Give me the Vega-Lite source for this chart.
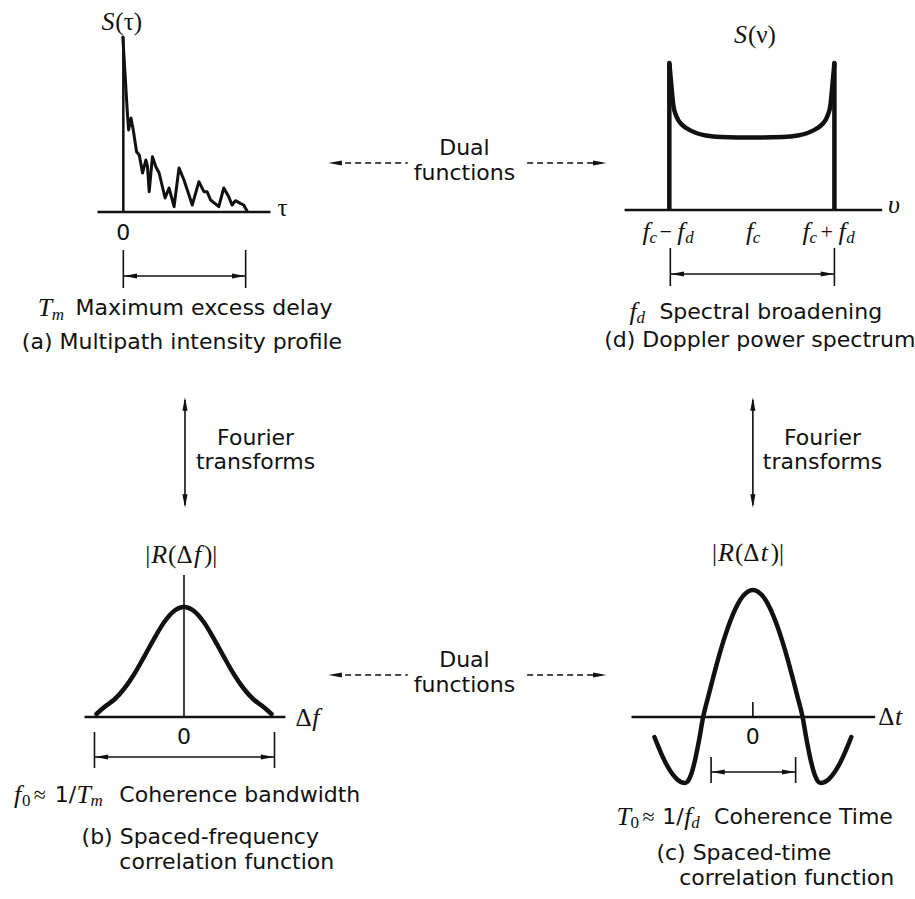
{
  "$schema": "https://vega.github.io/schema/vega-lite/v6.json",
  "width": 915,
  "height": 899,
  "autosize": {"type": "fit", "contains": "padding"},
  "padding": 0,
  "background": "white",
  "config": {"view": {"stroke": null}},
  "datasets": {
    "segs": [
      {"k": "axis", "x": 124, "y": 37, "x2": 124, "y2": 212},
      {"k": "axis", "x": 98, "y": 212, "x2": 272, "y2": 212},
      {"k": "bracket", "x": 124, "y": 250, "x2": 124, "y2": 288},
      {"k": "bracket", "x": 247, "y": 250, "x2": 247, "y2": 288},
      {"k": "bracket", "x": 124, "y": 276, "x2": 247, "y2": 276},
      {"k": "axis", "x": 628, "y": 210, "x2": 887, "y2": 210},
      {"k": "thick", "x": 673, "y": 63, "x2": 673, "y2": 210},
      {"k": "thick", "x": 839, "y": 63, "x2": 839, "y2": 210},
      {"k": "bracket", "x": 674, "y": 248, "x2": 674, "y2": 286},
      {"k": "bracket", "x": 839, "y": 248, "x2": 839, "y2": 286},
      {"k": "bracket", "x": 674, "y": 274, "x2": 839, "y2": 274},
      {"k": "dashed", "x": 337, "y": 163, "x2": 410, "y2": 163},
      {"k": "dashed", "x": 530, "y": 163, "x2": 603, "y2": 163},
      {"k": "dashed", "x": 337, "y": 675, "x2": 410, "y2": 675},
      {"k": "dashed", "x": 530, "y": 675, "x2": 603, "y2": 675},
      {"k": "bracket", "x": 186, "y": 400, "x2": 186, "y2": 505},
      {"k": "bracket", "x": 757, "y": 400, "x2": 757, "y2": 505},
      {"k": "stem", "x": 185, "y": 575, "x2": 185, "y2": 717},
      {"k": "axis", "x": 85, "y": 717, "x2": 287, "y2": 717},
      {"k": "bracket", "x": 95, "y": 732, "x2": 95, "y2": 768},
      {"k": "bracket", "x": 276, "y": 732, "x2": 276, "y2": 768},
      {"k": "bracket", "x": 95, "y": 757, "x2": 276, "y2": 757},
      {"k": "axis", "x": 635, "y": 717, "x2": 880, "y2": 717},
      {"k": "stem", "x": 757, "y": 702, "x2": 757, "y2": 717},
      {"k": "bracket", "x": 715, "y": 757, "x2": 715, "y2": 783},
      {"k": "bracket", "x": 800, "y": 757, "x2": 800, "y2": 783},
      {"k": "bracket", "x": 715, "y": 772, "x2": 800, "y2": 772}
    ],
    "heads": [
      {"dir": "left", "x": 131, "y": 276},
      {"dir": "right", "x": 240, "y": 276},
      {"dir": "left", "x": 681, "y": 274},
      {"dir": "right", "x": 832, "y": 274},
      {"dir": "left", "x": 337, "y": 163},
      {"dir": "right", "x": 603, "y": 163},
      {"dir": "left", "x": 337, "y": 675},
      {"dir": "right", "x": 603, "y": 675},
      {"dir": "up", "x": 186, "y": 404},
      {"dir": "down", "x": 186, "y": 501},
      {"dir": "up", "x": 757, "y": 404},
      {"dir": "down", "x": 757, "y": 501},
      {"dir": "left", "x": 102, "y": 757},
      {"dir": "right", "x": 269, "y": 757},
      {"dir": "left", "x": 722, "y": 772},
      {"dir": "right", "x": 793, "y": 772}
    ],
    "curves": [
      {"c": "a", "x": 123.5, "y": 37},
      {"c": "a", "x": 128.3, "y": 116.7},
      {"c": "a", "x": 129.3, "y": 130},
      {"c": "a", "x": 131.7, "y": 118},
      {"c": "a", "x": 134, "y": 130},
      {"c": "a", "x": 137.3, "y": 151.7},
      {"c": "a", "x": 140, "y": 155},
      {"c": "a", "x": 143.3, "y": 173},
      {"c": "a", "x": 146.7, "y": 160},
      {"c": "a", "x": 148.3, "y": 166.7},
      {"c": "a", "x": 150, "y": 191.7},
      {"c": "a", "x": 153.3, "y": 156.7},
      {"c": "a", "x": 156.7, "y": 166.7},
      {"c": "a", "x": 160, "y": 173},
      {"c": "a", "x": 166, "y": 198},
      {"c": "a", "x": 170, "y": 188},
      {"c": "a", "x": 175, "y": 206.7},
      {"c": "a", "x": 180, "y": 168},
      {"c": "a", "x": 185, "y": 180},
      {"c": "a", "x": 193.3, "y": 205},
      {"c": "a", "x": 200, "y": 181.7},
      {"c": "a", "x": 205, "y": 191.7},
      {"c": "a", "x": 208.3, "y": 191.7},
      {"c": "a", "x": 211.7, "y": 200},
      {"c": "a", "x": 220, "y": 206.7},
      {"c": "a", "x": 225, "y": 188},
      {"c": "a", "x": 230, "y": 196.7},
      {"c": "a", "x": 233.3, "y": 205},
      {"c": "a", "x": 236.7, "y": 200.7},
      {"c": "a", "x": 241.7, "y": 203.3},
      {"c": "a", "x": 245, "y": 205},
      {"c": "a", "x": 248.3, "y": 210.7},
      {"c": "d", "x": 673, "y": 63},
      {"c": "d", "x": 675, "y": 85},
      {"c": "d", "x": 677, "y": 105},
      {"c": "d", "x": 680, "y": 116},
      {"c": "d", "x": 685, "y": 124},
      {"c": "d", "x": 690, "y": 128},
      {"c": "d", "x": 700, "y": 133},
      {"c": "d", "x": 710, "y": 135.5},
      {"c": "d", "x": 725, "y": 137},
      {"c": "d", "x": 756, "y": 137.5},
      {"c": "d", "x": 787, "y": 137},
      {"c": "d", "x": 802, "y": 135.5},
      {"c": "d", "x": 812, "y": 133},
      {"c": "d", "x": 822, "y": 128},
      {"c": "d", "x": 827, "y": 124},
      {"c": "d", "x": 832, "y": 116},
      {"c": "d", "x": 835, "y": 105},
      {"c": "d", "x": 837, "y": 85},
      {"c": "d", "x": 839, "y": 63},
      {"c": "b", "x": 97, "y": 714},
      {"c": "b", "x": 105, "y": 707},
      {"c": "b", "x": 115, "y": 699.5},
      {"c": "b", "x": 125, "y": 688.5},
      {"c": "b", "x": 135, "y": 674},
      {"c": "b", "x": 145, "y": 656.6},
      {"c": "b", "x": 155, "y": 638.6},
      {"c": "b", "x": 165, "y": 622.3},
      {"c": "b", "x": 175, "y": 611},
      {"c": "b", "x": 185, "y": 607},
      {"c": "b", "x": 195, "y": 611},
      {"c": "b", "x": 205, "y": 622.3},
      {"c": "b", "x": 215, "y": 638.6},
      {"c": "b", "x": 225, "y": 656.6},
      {"c": "b", "x": 235, "y": 674},
      {"c": "b", "x": 245, "y": 688.5},
      {"c": "b", "x": 255, "y": 699.5},
      {"c": "b", "x": 265, "y": 707},
      {"c": "b", "x": 273, "y": 714},
      {"c": "c", "x": 658, "y": 737},
      {"c": "c", "x": 661, "y": 744.4},
      {"c": "c", "x": 665, "y": 753.8},
      {"c": "c", "x": 669, "y": 762.2},
      {"c": "c", "x": 673, "y": 769.4},
      {"c": "c", "x": 677, "y": 775.2},
      {"c": "c", "x": 681, "y": 779.5},
      {"c": "c", "x": 685, "y": 782.1},
      {"c": "c", "x": 689, "y": 783},
      {"c": "c", "x": 692, "y": 780.7},
      {"c": "c", "x": 695, "y": 774.2},
      {"c": "c", "x": 699, "y": 759.4},
      {"c": "c", "x": 703, "y": 739.6},
      {"c": "c", "x": 707, "y": 717},
      {"c": "c", "x": 712, "y": 697.1},
      {"c": "c", "x": 717, "y": 677.8},
      {"c": "c", "x": 722, "y": 659.3},
      {"c": "c", "x": 727, "y": 642.4},
      {"c": "c", "x": 732, "y": 627.2},
      {"c": "c", "x": 737, "y": 614.3},
      {"c": "c", "x": 742, "y": 603.8},
      {"c": "c", "x": 747, "y": 596.2},
      {"c": "c", "x": 752, "y": 591.6},
      {"c": "c", "x": 757, "y": 590},
      {"c": "c", "x": 762, "y": 591.6},
      {"c": "c", "x": 767, "y": 596.2},
      {"c": "c", "x": 772, "y": 603.8},
      {"c": "c", "x": 777, "y": 614.3},
      {"c": "c", "x": 782, "y": 627.2},
      {"c": "c", "x": 787, "y": 642.4},
      {"c": "c", "x": 792, "y": 659.3},
      {"c": "c", "x": 797, "y": 677.8},
      {"c": "c", "x": 802, "y": 697.1},
      {"c": "c", "x": 807, "y": 717},
      {"c": "c", "x": 811, "y": 739.6},
      {"c": "c", "x": 815, "y": 759.4},
      {"c": "c", "x": 819, "y": 774.2},
      {"c": "c", "x": 822, "y": 780.7},
      {"c": "c", "x": 825, "y": 783},
      {"c": "c", "x": 829, "y": 782.1},
      {"c": "c", "x": 833, "y": 779.5},
      {"c": "c", "x": 837, "y": 775.2},
      {"c": "c", "x": 841, "y": 769.4},
      {"c": "c", "x": 845, "y": 762.2},
      {"c": "c", "x": 849, "y": 753.8},
      {"c": "c", "x": 853, "y": 744.4},
      {"c": "c", "x": 856, "y": 737}
    ],
    "labels": [
      {"k": "mathL", "t": "S", "x": 102, "y": 22},
      {"k": "upL", "t": "(τ)", "x": 116, "y": 22},
      {"k": "upL", "t": "τ", "x": 279, "y": 208},
      {"k": "sansC", "t": "0", "x": 124, "y": 233},
      {"k": "mathL", "t": "T", "x": 38, "y": 308},
      {"k": "subL", "t": "m", "x": 52, "y": 315},
      {"k": "sansL", "t": "Maximum excess delay", "x": 76, "y": 308},
      {"k": "sansC", "t": "(a) Multipath intensity profile", "x": 183, "y": 342},
      {"k": "sansC", "t": "Dual", "x": 467, "y": 148},
      {"k": "sansC", "t": "functions", "x": 467, "y": 173},
      {"k": "mathL", "t": "S", "x": 738, "y": 35},
      {"k": "upL", "t": "(ν)", "x": 752, "y": 35},
      {"k": "mathL", "t": "υ", "x": 893, "y": 205},
      {"k": "mathL", "t": "f", "x": 646, "y": 232},
      {"k": "subL", "t": "c", "x": 653, "y": 238},
      {"k": "symL", "t": "−", "x": 663, "y": 232},
      {"k": "mathL", "t": "f", "x": 681, "y": 232},
      {"k": "subL", "t": "d", "x": 689, "y": 238},
      {"k": "mathL", "t": "f", "x": 750, "y": 232},
      {"k": "subL", "t": "c", "x": 757, "y": 238},
      {"k": "mathL", "t": "f", "x": 807, "y": 232},
      {"k": "subL", "t": "c", "x": 814, "y": 238},
      {"k": "symL", "t": "+", "x": 825, "y": 232},
      {"k": "mathL", "t": "f", "x": 843, "y": 232},
      {"k": "subL", "t": "d", "x": 851, "y": 238},
      {"k": "mathL", "t": "f", "x": 633, "y": 312},
      {"k": "subL", "t": "d", "x": 640, "y": 318},
      {"k": "sansL", "t": "Spectral broadening", "x": 663, "y": 312},
      {"k": "sansC", "t": "(d) Doppler power spectrum", "x": 764, "y": 340},
      {"k": "sansC", "t": "Fourier", "x": 257, "y": 438},
      {"k": "sansC", "t": "transforms", "x": 257, "y": 462},
      {"k": "sansC", "t": "Fourier", "x": 827, "y": 438},
      {"k": "sansC", "t": "transforms", "x": 827, "y": 462},
      {"k": "upL", "t": "|", "x": 146, "y": 555},
      {"k": "mathL", "t": "R", "x": 152, "y": 555},
      {"k": "upL", "t": "(Δ", "x": 169, "y": 555},
      {"k": "mathL", "t": "f", "x": 195, "y": 555},
      {"k": "upL", "t": ")|", "x": 205, "y": 555},
      {"k": "upL", "t": "|", "x": 716, "y": 553},
      {"k": "mathL", "t": "R", "x": 722, "y": 553},
      {"k": "upL", "t": "(Δ", "x": 739, "y": 553},
      {"k": "mathL", "t": "t", "x": 765, "y": 553},
      {"k": "upL", "t": ")|", "x": 775, "y": 553},
      {"k": "sansC", "t": "Dual", "x": 467, "y": 660},
      {"k": "sansC", "t": "functions", "x": 467, "y": 685},
      {"k": "upL", "t": "Δ", "x": 297, "y": 718},
      {"k": "mathL", "t": "f", "x": 314, "y": 718},
      {"k": "sansC", "t": "0", "x": 185, "y": 737},
      {"k": "mathL", "t": "f", "x": 14, "y": 795},
      {"k": "subUp", "t": "0", "x": 22, "y": 801},
      {"k": "symL", "t": "≈", "x": 34, "y": 795},
      {"k": "sansL", "t": "1/", "x": 55, "y": 795},
      {"k": "mathL", "t": "T", "x": 77, "y": 795},
      {"k": "subL", "t": "m", "x": 91, "y": 801},
      {"k": "sansL", "t": "Coherence bandwidth", "x": 120, "y": 795},
      {"k": "sansL", "t": "(b) Spaced-frequency", "x": 82, "y": 837},
      {"k": "sansL", "t": "correlation function", "x": 120, "y": 862},
      {"k": "upL", "t": "Δ", "x": 883, "y": 717},
      {"k": "mathL", "t": "t", "x": 900, "y": 717},
      {"k": "sansC", "t": "0", "x": 757, "y": 737},
      {"k": "mathL", "t": "T", "x": 620, "y": 817},
      {"k": "subUp", "t": "0", "x": 634, "y": 823},
      {"k": "symL", "t": "≈", "x": 646, "y": 817},
      {"k": "sansL", "t": "1/", "x": 666, "y": 817},
      {"k": "mathL", "t": "f", "x": 688, "y": 817},
      {"k": "subL", "t": "d", "x": 695, "y": 823},
      {"k": "sansL", "t": "Coherence Time", "x": 718, "y": 817},
      {"k": "sansL", "t": "(c) Spaced-time", "x": 660, "y": 853},
      {"k": "sansL", "t": "correlation function", "x": 683, "y": 878}
    ]
  },
  "encoding": {
    "x": {"field": "x", "type": "quantitative", "scale": {"domain": [0, 915], "nice": false, "zero": false}, "axis": null},
    "y": {"field": "y", "type": "quantitative", "scale": {"domain": [0, 899], "reverse": true, "nice": false, "zero": false}, "axis": null}
  },
  "layer": [
    {
      "data": {"name": "segs"},
      "transform": [{"filter": "datum.k === 'axis'"}],
      "mark": {"type": "rule", "color": "#111", "strokeWidth": 2.5},
      "encoding": {"x2": {"field": "x2"}, "y2": {"field": "y2"}}
    },
    {
      "data": {"name": "segs"},
      "transform": [{"filter": "datum.k === 'thick'"}],
      "mark": {"type": "rule", "color": "#111", "strokeWidth": 4.5},
      "encoding": {"x2": {"field": "x2"}, "y2": {"field": "y2"}}
    },
    {
      "data": {"name": "segs"},
      "transform": [{"filter": "datum.k === 'bracket' || datum.k === 'stem'"}],
      "mark": {"type": "rule", "color": "#111", "strokeWidth": 1.6},
      "encoding": {"x2": {"field": "x2"}, "y2": {"field": "y2"}}
    },
    {
      "data": {"name": "segs"},
      "transform": [{"filter": "datum.k === 'dashed'"}],
      "mark": {"type": "rule", "color": "#111", "strokeWidth": 1.6, "strokeDash": [6, 4]},
      "encoding": {"x2": {"field": "x2"}, "y2": {"field": "y2"}}
    },
    {
      "data": {"name": "curves"},
      "transform": [{"filter": "datum.c === 'a'"}],
      "mark": {"type": "line", "color": "#111", "strokeWidth": 3, "strokeJoin": "round", "strokeCap": "round"},
      "encoding": {}
    },
    {
      "data": {"name": "curves"},
      "transform": [{"filter": "datum.c !== 'a'"}],
      "mark": {"type": "line", "color": "#111", "strokeWidth": 4.5, "interpolate": "monotone", "strokeCap": "round"},
      "encoding": {"detail": {"field": "c"}}
    },
    {
      "data": {"name": "heads"},
      "mark": {"type": "point", "filled": true, "color": "#111", "opacity": 1, "size": 180},
      "encoding": {
        "shape": {
          "field": "dir",
          "type": "nominal",
          "legend": null,
          "scale": {
            "domain": ["left", "right", "up", "down"],
            "range": ["M -1 0 L 1 -0.38 L 1 0.38 Z", "M 1 0 L -1 -0.38 L -1 0.38 Z", "M 0 -1 L 0.38 1 L -0.38 1 Z", "M 0 1 L 0.38 -1 L -0.38 -1 Z"]
          }
        }
      }
    },
    {
      "data": {"name": "labels"},
      "transform": [{"filter": "datum.k === 'sansC'"}],
      "mark": {"type": "text", "font": "DejaVu Sans", "fontSize": 22, "align": "center", "baseline": "middle", "color": "#111"},
      "encoding": {"text": {"field": "t"}}
    },
    {
      "data": {"name": "labels"},
      "transform": [{"filter": "datum.k === 'sansL'"}],
      "mark": {"type": "text", "font": "DejaVu Sans", "fontSize": 22, "align": "left", "baseline": "middle", "color": "#111"},
      "encoding": {"text": {"field": "t"}}
    },
    {
      "data": {"name": "labels"},
      "transform": [{"filter": "datum.k === 'mathL'"}],
      "mark": {"type": "text", "font": "Liberation Serif", "fontStyle": "italic", "fontSize": 26, "align": "left", "baseline": "middle", "color": "#111"},
      "encoding": {"text": {"field": "t"}}
    },
    {
      "data": {"name": "labels"},
      "transform": [{"filter": "datum.k === 'upL'"}],
      "mark": {"type": "text", "font": "Liberation Serif", "fontSize": 25, "align": "left", "baseline": "middle", "color": "#111"},
      "encoding": {"text": {"field": "t"}}
    },
    {
      "data": {"name": "labels"},
      "transform": [{"filter": "datum.k === 'subL'"}],
      "mark": {"type": "text", "font": "Liberation Serif", "fontStyle": "italic", "fontSize": 17, "align": "left", "baseline": "middle", "color": "#111"},
      "encoding": {"text": {"field": "t"}}
    },
    {
      "data": {"name": "labels"},
      "transform": [{"filter": "datum.k === 'subUp'"}],
      "mark": {"type": "text", "font": "Liberation Serif", "fontSize": 17, "align": "left", "baseline": "middle", "color": "#111"},
      "encoding": {"text": {"field": "t"}}
    },
    {
      "data": {"name": "labels"},
      "transform": [{"filter": "datum.k === 'symL'"}],
      "mark": {"type": "text", "font": "Liberation Serif", "fontSize": 22, "align": "left", "baseline": "middle", "color": "#111"},
      "encoding": {"text": {"field": "t"}}
    }
  ]
}
